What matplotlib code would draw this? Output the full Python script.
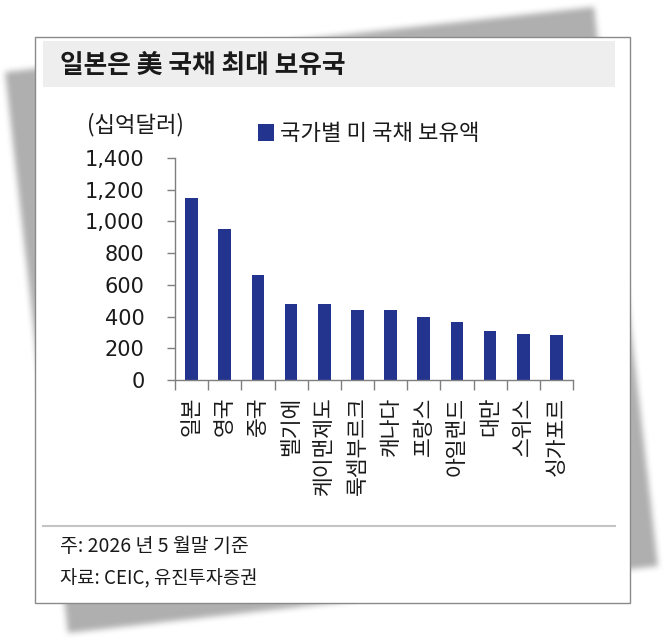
import matplotlib
matplotlib.use("Agg")
import matplotlib.pyplot as plt
from matplotlib.patches import Rectangle
from matplotlib.path import Path
from matplotlib.ticker import FuncFormatter, FixedLocator
import numpy as np

KR = ['Noto Sans CJK KR', 'DejaVu Sans']
plt.rcParams['font.family'] = KR

# data
countries = ['일본', '영국', '중국', '벨기에', '케이맨제도', '룩셈부르크',
             '캐나다', '프랑스', '아일랜드', '대만', '스위스', '싱가포르']
holdings = [1148, 952, 664, 478, 477, 440, 440, 398, 364, 312, 288, 284]
yticks = [0, 200, 400, 600, 800, 1000, 1200, 1400]

title = '일본은 美 국채 최대 보유국'
unit_label = '(십억달러)'
series_name = '국가별 미 국채 보유액'
note = '주: 2026 년 5 월말 기준'
source = '자료: CEIC, 유진투자증권'

W, H = 666, 640
BAR_COLOR = '#23348f'
TXT = '#1a1a1a'

fig = plt.figure(figsize=(W / 100, H / 100), dpi=100)
fig.patch.set_facecolor('white')

# background layer in pixel coordinates
bg = fig.add_axes([0, 0, 1, 1])
bg.set_xlim(0, W)
bg.set_ylim(H, 0)
bg.axis('off')

# soft tilted shadow behind the card
corners = [(5, 72), (594, 7), (658, 566), (68, 633)]
yy, xx = np.mgrid[0:H, 0:W] + 0.5
mask = Path(corners).contains_points(
    np.column_stack([xx.ravel(), yy.ravel()])).reshape(H, W).astype(float)
k = np.ones(7) / 7
for _ in range(2):
    mask = np.apply_along_axis(lambda m: np.convolve(m, k, mode='same'), 0, mask)
    mask = np.apply_along_axis(lambda m: np.convolve(m, k, mode='same'), 1, mask)
shade = 1 - mask * 0.31
bg.imshow(np.dstack([shade] * 3), extent=(0, W, H, 0), zorder=0, aspect='auto')
bg.set_xlim(0, W)
bg.set_ylim(H, 0)

# card, title bar, separator
bg.add_patch(Rectangle((35, 37), 595, 566, facecolor='white',
                       edgecolor='#8a8a8a', lw=1, zorder=1))
bg.add_patch(Rectangle((43, 41), 572, 46, facecolor='#eeeeee',
                       edgecolor='none', zorder=2))
bg.plot([43, 615], [526, 526], color='#c4c4c4', lw=1.5, zorder=2)

bg.text(60, 65, title, fontsize=18.5, fontweight='bold', color=TXT,
        va='center', ha='left', zorder=3)
bg.text(87, 125, unit_label, fontsize=16, color=TXT, va='center',
        ha='left', zorder=3)
bg.text(60, 546, note, fontsize=14, color=TXT, va='center', ha='left', zorder=3)
bg.text(60, 579, source, fontsize=13.5, color=TXT, va='center', ha='left', zorder=3)

# bar chart
ax = fig.add_axes([175 / W, 1 - 380 / H, 398 / W, 222 / H])
ax.set_facecolor('none')
x = np.arange(len(countries))
bars = ax.bar(x, holdings, width=0.38, color=BAR_COLOR, label=series_name)

ax.set_xlim(-0.5, len(countries) - 0.5)
ax.set_ylim(0, 1400)
ax.set_yticks(yticks)
ax.yaxis.set_major_formatter(FuncFormatter(lambda v, p: f'{v:,.0f}'))
for lab in ax.get_yticklabels():
    lab.set_fontfamily('DejaVu Sans')
ax.tick_params(axis='y', length=6, width=1, color='#7f7f7f', pad=16,
               labelsize=15, labelcolor=TXT)

ax.set_xticks(x)
ax.set_xticklabels(countries, rotation=90, va='top', ha='center')
ax.xaxis.set_minor_locator(FixedLocator(np.arange(-0.5, len(countries), 1)))
ax.tick_params(axis='x', which='major', length=0, pad=12, labelsize=15.5,
               labelcolor=TXT)
ax.tick_params(axis='x', which='minor', length=7, width=1, color='#7f7f7f')

for side in ['top', 'right']:
    ax.spines[side].set_visible(False)
for side in ['left', 'bottom']:
    ax.spines[side].set_color('#7f7f7f')
    ax.spines[side].set_linewidth(1)

ax.legend(loc='center left', bbox_to_anchor=(258 / W, 1 - 134 / H),
          bbox_transform=fig.transFigure, frameon=False, fontsize=16,
          handlelength=0.7, handleheight=0.8, handletextpad=0.3,
          borderpad=0, borderaxespad=0, labelcolor=TXT)

fig.savefig('out.png', dpi=100, facecolor='white')
